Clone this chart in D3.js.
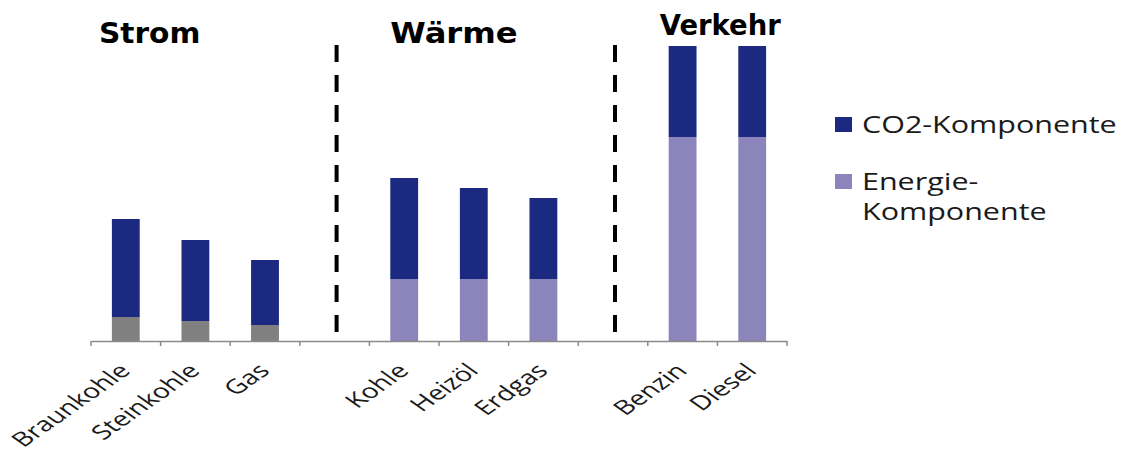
<!DOCTYPE html>
<html>
<head>
<meta charset="utf-8">
<script src="https://d3js.org/d3.v7.min.js"></script>
<style>
  body { margin: 0; background: #fff; }
</style>
</head>
<body>
<script>
// Data
var categories = ["Braunkohle", "Steinkohle", "Gas", "_gap1", "Kohle", "Heizöl", "Erdgas", "_gap2", "Benzin", "Diesel"];
var sectorOf = ["Strom", "Strom", "Strom", null, "Wärme", "Wärme", "Wärme", null, "Verkehr", "Verkehr"];
var energieValues = [24, 20, 16, 0, 62, 62, 62, 0, 204, 204];
var co2Values = [98, 81, 65, 0, 101, 91, 81, 0, 91, 91];
var sectors = ["Strom", "Wärme", "Verkehr"];
var legendLabels = [["CO2-Komponente"], ["Energie-", "Komponente"]];

var svgWidth = 1129;
var svgHeight = 453;

var svg = d3.select("body")
  .append("svg")
  .attr("width", svgWidth)
  .attr("height", svgHeight);

var chartGroup = svg.append("g");

var axisY = 341;

// Build table for the stack
var table = categories.map(function(c, i) {
  return { cat: c, sector: sectorOf[i], energie: energieValues[i], co2: co2Values[i] };
});

var stacked = d3.stack().keys(["energie", "co2"])(table);

// Create scale functions
var xBandScale = d3.scaleBand()
  .domain(categories)
  .range([91, 787])
  .paddingInner(0.6)
  .paddingOuter(0.3);

var yLinearScale = d3.scaleLinear()
  .domain([0, 300])
  .range([axisY, axisY - 300]);

var navy = "#1b2a80";
var purple = "#8c85bb";
var gray = "#808080";

// Bars
stacked.forEach(function(layer) {
  chartGroup.append("g")
    .selectAll("rect")
    .data(layer.filter(function(d) { return d.data.sector; }))
    .enter()
    .append("rect")
    .attr("x", d => xBandScale(d.data.cat))
    .attr("width", xBandScale.bandwidth())
    .attr("y", d => yLinearScale(d[1]))
    .attr("height", d => yLinearScale(d[0]) - yLinearScale(d[1]))
    .attr("fill", function(d) {
      if (layer.key === "co2") return navy;
      return d.data.sector === "Strom" ? gray : purple;
    });
});

// Axis
var bottomAxis = d3.axisBottom(xBandScale)
  .tickSize(0)
  .tickSizeOuter(0)
  .tickFormat(d => d.charAt(0) === "_" ? "" : d);

var axisG = chartGroup.append("g")
  .attr("transform", `translate(0, ${axisY})`)
  .call(bottomAxis);

axisG.select(".domain")
  .attr("stroke", "#8a8a8a")
  .attr("stroke-width", 1.5);

axisG.selectAll("text")
  .attr("y", 0)
  .attr("dy", 0)
  .attr("text-anchor", "end")
  .attr("transform", "translate(6, 31) scale(1.42, 1) rotate(-45)")
  .attr("font-family", "Open Sans")
  .attr("font-size", "20px")
  .attr("fill", "#1a1a1a");

// tick marks at the category boundaries
var boundaries = categories.map(c => xBandScale(c) + xBandScale.bandwidth() / 2 - xBandScale.step() / 2);
boundaries.push(xBandScale.range()[1]);

chartGroup.append("g")
  .selectAll("line")
  .data(boundaries)
  .enter()
  .append("line")
  .attr("x1", d => d)
  .attr("x2", d => d)
  .attr("y1", axisY)
  .attr("y2", axisY + 5)
  .attr("stroke", "#8a8a8a")
  .attr("stroke-width", 1.5);

// Dashed separators in the gaps
chartGroup.append("g")
  .selectAll("line")
  .data(categories.filter(c => c.charAt(0) === "_"))
  .enter()
  .append("line")
  .attr("x1", d => xBandScale(d) + xBandScale.bandwidth() / 2 + 2)
  .attr("x2", d => xBandScale(d) + xBandScale.bandwidth() / 2 + 2)
  .attr("y1", 45)
  .attr("y2", axisY)
  .attr("stroke", "#000")
  .attr("stroke-width", 4)
  .attr("stroke-dasharray", "17,13");

// Sector titles
var titleY = { "Strom": 43, "Wärme": 43, "Verkehr": 35 };
var titleShift = { "Strom": -13, "Wärme": 0, "Verkehr": -9 };
var titleStretch = { "Strom": 1.06, "Wärme": 1.15, "Verkehr": 0.98 };
chartGroup.selectAll(".sectorTitle")
  .data(sectors)
  .enter()
  .append("text")
  .attr("class", "sectorTitle")
  .attr("transform", function(s) {
    var first = categories[sectorOf.indexOf(s)];
    var tx = xBandScale(first) + titleShift[s];
    return `translate(${tx}, ${titleY[s]}) scale(${titleStretch[s]}, 1)`;
  })
  .attr("font-family", "DejaVu Sans")
  .attr("font-weight", "bold")
  .attr("font-size", "28px")
  .attr("fill", "#000")
  .text(s => s);

// Legend
var legendColors = [navy, purple];
var legendTops = [117, 174];

var legend = chartGroup.append("g");

legendLabels.forEach(function(lines, i) {
  legend.append("rect")
    .attr("x", 835)
    .attr("y", legendTops[i])
    .attr("width", 17)
    .attr("height", 15)
    .attr("fill", legendColors[i]);

  lines.forEach(function(line, j) {
    legend.append("text")
      .attr("transform", `translate(862, ${legendTops[i] + 16 + j * 30}) scale(1.27, 1)`)
      .attr("font-family", "Open Sans")
      .attr("font-size", "24px")
      .attr("fill", "#1a1a1a")
      .text(line);
  });
});
</script>
</body>
</html>
